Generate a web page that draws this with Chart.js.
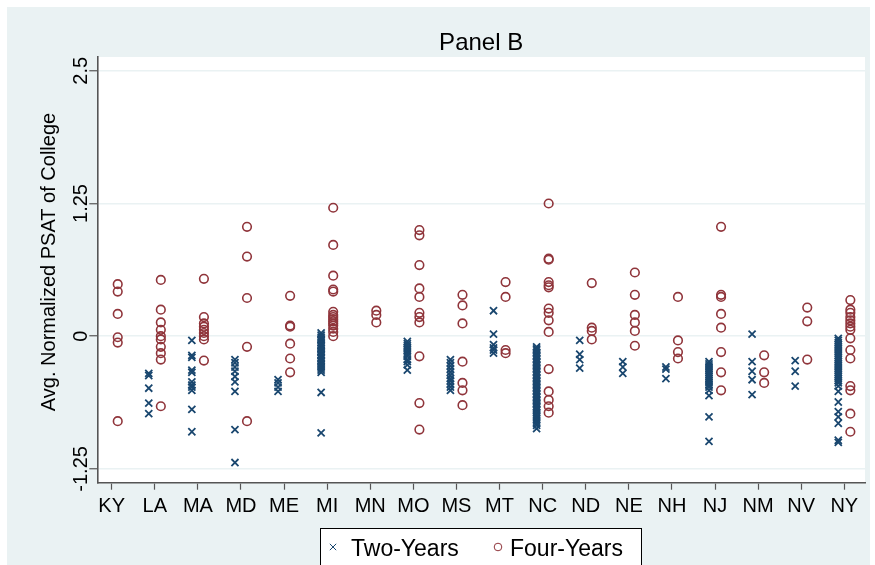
<!DOCTYPE html>
<html>
<head>
<meta charset="utf-8">
<script src="https://cdn.jsdelivr.net/npm/chart.js@4.4.0/dist/chart.umd.min.js"></script>
<style>
  html, body { margin: 0; padding: 0; background: #fff; }
  #wrap { width: 875px; height: 565px; }
</style>
</head>
<body>
<div id="wrap"><canvas id="c" width="875" height="565"></canvas></div>
<script>
// States along the x axis
const states = ['KY','LA','MA','MD','ME','MI','MN','MO','MS','MT','NC','ND','NE','NH','NJ','NM','NV','NY'];
const yTicks = [2.5, 1.25, 0, -1.25];

// Two-year colleges, one list per state (same order as states)
const twoYears = [
  [],
  [-0.35, -0.37, -0.49, -0.63, -0.73],
  [-0.04, -0.18, -0.20, -0.32, -0.34, -0.43, -0.46, -0.48, -0.51, -0.69, -0.90],
  [-0.22, -0.25, -0.29, -0.33, -0.38, -0.43, -0.52, -0.88, -1.19],
  [-0.41, -0.44, -0.48, -0.52],
  [0.03, 0.01, -0.01, -0.03, -0.04, -0.06, -0.08, -0.09, -0.11, -0.12, -0.14, -0.15, -0.17,
   -0.18, -0.20, -0.21, -0.23, -0.24, -0.26, -0.28, -0.30, -0.32, -0.34, -0.53, -0.91],
  [],
  [-0.05, -0.07, -0.09, -0.11, -0.13, -0.15, -0.17, -0.19, -0.22, -0.24, -0.27, -0.32],
  [-0.22, -0.25, -0.28, -0.31, -0.34, -0.37, -0.40, -0.42, -0.45, -0.48, -0.51],
  [0.24, 0.02, -0.08, -0.11, -0.13, -0.16],
  [-0.10, -0.12, -0.13, -0.15, -0.16, -0.18, -0.19, -0.21, -0.22, -0.24, -0.25, -0.27, -0.28,
   -0.30, -0.31, -0.33, -0.34, -0.36, -0.37, -0.39, -0.40, -0.42, -0.43, -0.45, -0.46, -0.48,
   -0.49, -0.51, -0.52, -0.54, -0.55, -0.57, -0.58, -0.60, -0.61, -0.63, -0.64, -0.66, -0.67,
   -0.69, -0.70, -0.72, -0.74, -0.76, -0.78, -0.80, -0.82, -0.84, -0.87],
  [-0.04, -0.17, -0.22, -0.30],
  [-0.24, -0.29, -0.35],
  [-0.29, -0.31, -0.40],
  [-0.24, -0.26, -0.28, -0.30, -0.32, -0.34, -0.36, -0.38, -0.40, -0.42, -0.44, -0.46, -0.48,
   -0.51, -0.56, -0.76, -0.99],
  [0.02, -0.24, -0.33, -0.41, -0.55],
  [-0.23, -0.33, -0.47],
  [-0.02, -0.04, -0.06, -0.08, -0.10, -0.12, -0.14, -0.16, -0.18, -0.20, -0.22, -0.24, -0.26,
   -0.28, -0.30, -0.32, -0.34, -0.36, -0.38, -0.40, -0.42, -0.44, -0.47, -0.52, -0.62, -0.71,
   -0.76, -0.82, -0.98, -1.00]
];

// Four-year colleges
const fourYears = [
  [0.49, 0.42, 0.21, -0.01, -0.06, -0.80],
  [0.53, 0.25, 0.13, 0.06, 0.00, -0.03, -0.10, -0.16, -0.22, -0.66],
  [0.54, 0.18, 0.12, 0.09, 0.06, 0.03, 0.00, -0.03, -0.23],
  [1.03, 0.75, 0.36, -0.10, -0.80],
  [0.38, 0.10, 0.09, -0.07, -0.21, -0.34],
  [1.21, 0.86, 0.57, 0.44, 0.42, 0.23, 0.20, 0.18, 0.16, 0.14, 0.12, 0.10, 0.07, 0.04, 0.00],
  [0.24, 0.20, 0.13],
  [1.00, 0.95, 0.67, 0.45, 0.37, 0.22, 0.18, 0.13, -0.19, -0.63, -0.88],
  [0.39, 0.29, 0.12, -0.24, -0.44, -0.51, -0.65],
  [0.51, 0.37, -0.13, -0.16],
  [1.25, 0.73, 0.72, 0.51, 0.48, 0.46, 0.26, 0.22, 0.15, 0.04, -0.31, -0.52, -0.60, -0.66, -0.72],
  [0.50, 0.08, 0.05, -0.03],
  [0.60, 0.39, 0.20, 0.13, 0.05, -0.09],
  [0.37, -0.04, -0.15, -0.21],
  [1.03, 0.39, 0.37, 0.21, 0.08, -0.15, -0.34, -0.51],
  [-0.18, -0.34, -0.44],
  [0.27, 0.14, -0.22],
  [0.34, 0.25, 0.22, 0.18, 0.15, 0.12, 0.09, 0.06, -0.02, -0.13, -0.21, -0.47, -0.51, -0.73, -0.90]
];

const NAVY = '#1a476f';
const MAROON = '#90353b';
const BG = '#eaf2f3';
const FONT = "'Liberation Sans', Arial, sans-serif";

// two-year marks sit a bit left of the state tick, four-year a bit right
function toPoints(lists, shift) {
  const pts = [];
  lists.forEach((vals, i) => {
    vals.forEach(v => pts.push({ x: i + shift, y: v }));
  });
  return pts;
}

const frame = {
  id: 'frame',
  beforeDraw(chart) {
    const c = chart.ctx, a = chart.chartArea;
    c.save();
    c.fillStyle = '#fff';
    c.fillRect(0, 0, chart.width, chart.height);
    c.fillStyle = BG;
    c.fillRect(7, 7, 863, 560);
    c.fillStyle = '#fff';
    c.fillRect(a.left, a.top, a.right - a.left, a.bottom - a.top);
    c.restore();
  },
  afterDraw(chart) {
    const c = chart.ctx, y = chart.scales.y, a = chart.chartArea;
    c.save();
    // title, centred over the plot region
    c.fillStyle = '#000';
    c.font = '24px ' + FONT;
    c.textAlign = 'center';
    c.textBaseline = 'alphabetic';
    c.fillText('Panel B', (a.left + a.right) / 2, 49.5);
    // y axis title
    c.font = '20px ' + FONT;
    c.save();
    c.translate(55, 262);
    c.rotate(-Math.PI / 2);
    c.fillText('Avg. Normalized PSAT of College', 0, 0);
    c.restore();
    // rotated y tick labels
    y.ticks.forEach(t => {
      c.save();
      c.translate(87, y.getPixelForValue(t.value));
      c.rotate(-Math.PI / 2);
      c.fillText(String(t.value), 0, 0);
      c.restore();
    });
    // legend box
    c.fillStyle = '#fff';
    c.fillRect(320.5, 528.5, 321, 50);
    c.strokeStyle = '#000';
    c.lineWidth = 1;
    c.strokeRect(320.5, 528.5, 321, 50);
    c.strokeStyle = NAVY;
    Chart.helpers.drawPoint(c, { pointStyle: 'crossRot', radius: 4.5, borderWidth: 1.8, rotation: 0 }, 333, 547);
    c.strokeStyle = MAROON;
    Chart.helpers.drawPoint(c, { pointStyle: 'circle', radius: 3.8, borderWidth: 1.7, rotation: 0 }, 498, 547);
    c.fillStyle = '#000';
    c.font = '23px ' + FONT;
    c.textAlign = 'left';
    c.fillText('Two-Years', 351, 555.5);
    c.fillText('Four-Years', 510, 555.5);
    c.restore();
  }
};

new Chart(document.getElementById('c'), {
  type: 'scatter',
  data: {
    datasets: [
      {
        label: 'Two-Years',
        data: toPoints(twoYears, -0.14),
        pointStyle: 'crossRot',
        radius: 5,
        borderWidth: 1.8,
        borderColor: NAVY,
        backgroundColor: NAVY
      },
      {
        label: 'Four-Years',
        data: toPoints(fourYears, 0.14),
        pointStyle: 'circle',
        radius: 4.3,
        borderWidth: 1.6,
        borderColor: MAROON,
        backgroundColor: 'rgba(0,0,0,0)'
      }
    ]
  },
  options: {
    responsive: false,
    animation: false,
    layout: { padding: { left: 0, right: 10, top: 57, bottom: 0 } },
    plugins: {
      legend: { display: false },
      tooltip: { enabled: false },
      title: { display: false }
    },
    scales: {
      x: {
        type: 'linear',
        min: -0.334,
        max: 17.48,
        afterBuildTicks: s => { s.ticks = states.map((_, i) => ({ value: i })); },
        afterFit: s => { s.height = 82.3; },
        ticks: {
          autoSkip: false,
          maxRotation: 0,
          minRotation: 0,
          padding: 5,
          color: '#000',
          font: { family: FONT, size: 20 },
          callback: v => states[v]
        },
        grid: { drawOnChartArea: false, tickLength: 7, tickColor: '#555', tickWidth: 1.2 },
        border: { color: '#555', width: 1.6 }
      },
      y: {
        min: -1.38,
        max: 2.63,
        afterBuildTicks: s => { s.ticks = yTicks.map(v => ({ value: v })); },
        afterFit: s => { s.width = 97.3; },
        ticks: { display: false },
        grid: { color: BG, lineWidth: 1.5, tickLength: 8, tickColor: '#555', tickWidth: 1.2 },
        border: { color: '#555', width: 1.6 }
      }
    }
  },
  plugins: [frame]
});
</script>
</body>
</html>
